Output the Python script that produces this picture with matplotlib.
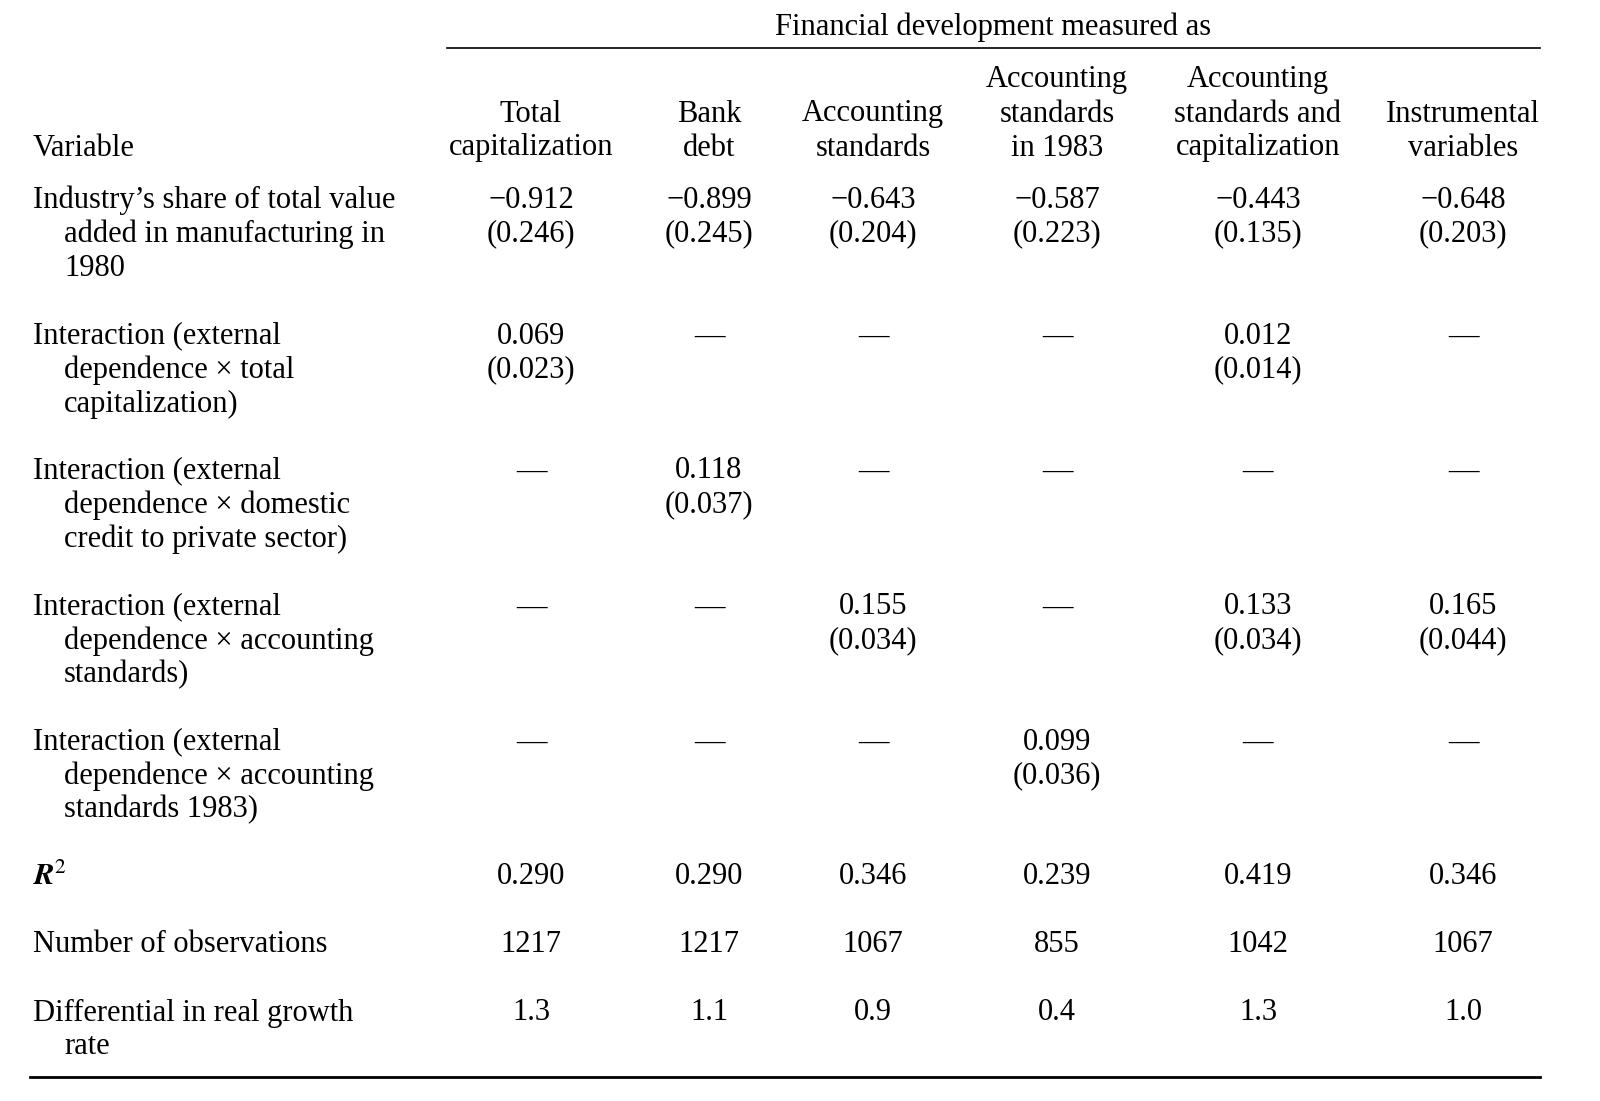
import matplotlib.pyplot as plt

plt.rcParams["font.family"] = ["Liberation Serif", "DejaVu Serif"]

spanner = "Financial development measured as"
col_headers = [
    ["Total", "capitalization"],
    ["Bank", "debt"],
    ["Accounting", "standards"],
    ["Accounting", "standards", "in 1983"],
    ["Accounting", "standards and", "capitalization"],
    ["Instrumental", "variables"],
]
row_labels = [
    ["Industry\u2019s share of total value", "added in manufacturing in", "1980"],
    ["Interaction (external", "dependence \u00d7 total", "capitalization)"],
    ["Interaction (external", "dependence \u00d7 domestic", "credit to private sector)"],
    ["Interaction (external", "dependence \u00d7 accounting", "standards)"],
    ["Interaction (external", "dependence \u00d7 accounting", "standards 1983)"],
]
D = "\u2014"
coefs = [
    ["\u22120.912", "\u22120.899", "\u22120.643", "\u22120.587", "\u22120.443", "\u22120.648"],
    ["0.069", D, D, D, "0.012", D],
    [D, "0.118", D, D, D, D],
    [D, D, "0.155", D, "0.133", "0.165"],
    [D, D, D, "0.099", D, D],
]
ses = [
    ["(0.246)", "(0.245)", "(0.204)", "(0.223)", "(0.135)", "(0.203)"],
    ["(0.023)", "", "", "", "(0.014)", ""],
    ["", "(0.037)", "", "", "", ""],
    ["", "", "(0.034)", "", "(0.034)", "(0.044)"],
    ["", "", "", "(0.036)", "", ""],
]
r2 = ["0.290", "0.290", "0.346", "0.239", "0.419", "0.346"]
nobs = ["1217", "1217", "1067", "855", "1042", "1067"]
diff = ["1.3", "1.1", "0.9", "0.4", "1.3", "1.0"]

fig = plt.figure(figsize=(16, 11.01), dpi=100)
ax = fig.add_axes([0, 0, 1, 1])
ax.set_xlim(0, 1600)
ax.set_ylim(1101, 0)
ax.axis("off")

fs = 22
lh = 34
col_x = [531, 709, 873, 1057, 1258, 1463]
label_x = 33
indent = 31


def put(x, y, s, ha="center"):
    ax.text(x, y, s, ha=ha, va="center", fontsize=fs)


put(993, 27, spanner)
ax.plot([447, 1540], [48, 48], color="black", lw=1.2)

put(label_x, 148, "Variable", ha="left")
for x, h in zip(col_x, col_headers):
    n = len(h)
    for i, line in enumerate(h):
        put(x, 148 - (n - 1 - i) * lh, line)

row_y = [200, 336, 471, 607, 742]
for y, lab, cr, sr in zip(row_y, row_labels, coefs, ses):
    for i, line in enumerate(lab):
        put(label_x + (indent if i else 0), y + i * lh, line, ha="left")
    for x, c, s in zip(col_x, cr, sr):
        put(x, y, c)
        if s:
            put(x, y + lh, s)

ax.text(label_x, 877, "$\\boldsymbol{R}^2$", ha="left", va="center", fontsize=fs,
        math_fontfamily="stix")
put(label_x, 945, "Number of observations", ha="left")
put(label_x, 1013, "Differential in real growth", ha="left")
put(label_x + indent, 1047, "rate", ha="left")
for x, a, b, c in zip(col_x, r2, nobs, diff):
    put(x, 877, a)
    put(x, 945, b)
    put(x, 1013, c)

ax.plot([30, 1540], [1077, 1077], color="black", lw=2)

fig.savefig("out.png", dpi=100)
